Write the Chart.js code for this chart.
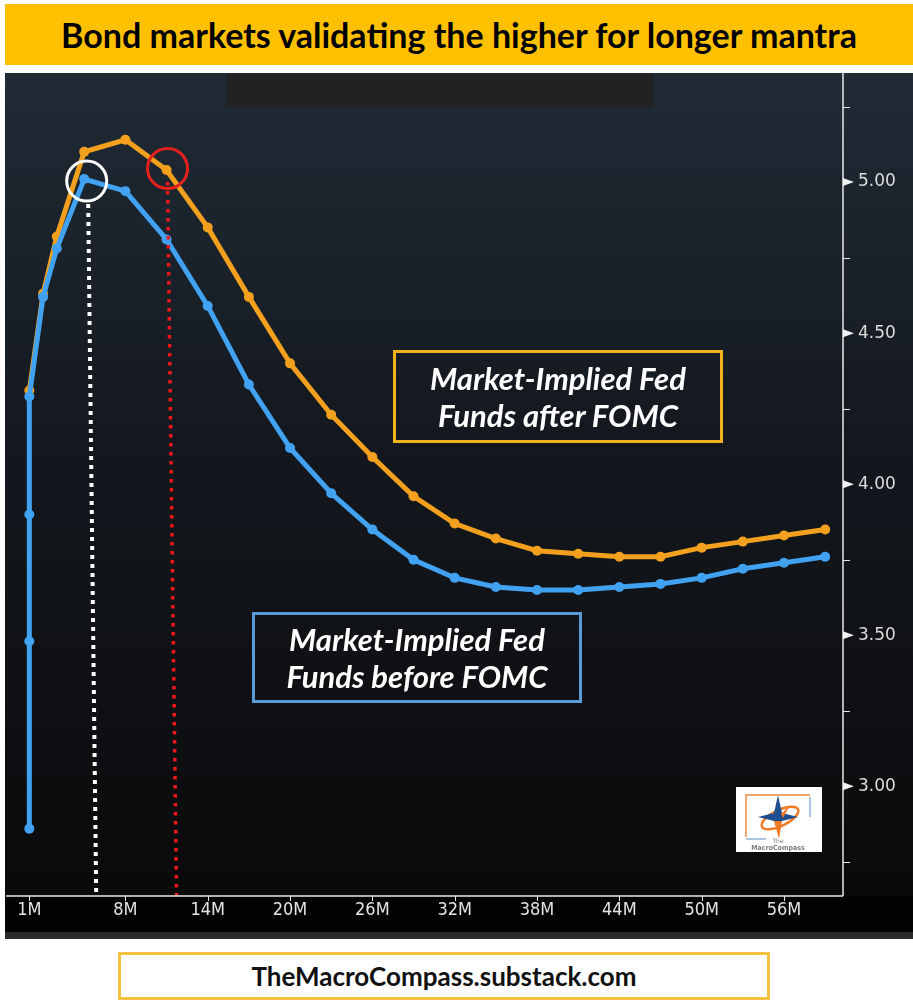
<!DOCTYPE html>
<html>
<head>
<meta charset="utf-8">
<script src="https://cdn.jsdelivr.net/npm/chart.js@4.4.0/dist/chart.umd.min.js"></script>
<style>
  html, body { margin: 0; padding: 0; background: #ffffff; width: 913px; height: 1005px; overflow: hidden; }
  #title {
    position: absolute; left: 5px; top: 4px; width: 908px; height: 61px;
    background: #ffc000; display: flex; align-items: center; justify-content: center;
    font-family: Lato, sans-serif; font-weight: 700; font-size: 34px; color: #000;
  }
  #wrap { position: absolute; left: 5px; top: 73px; width: 908px; height: 866px; }
  .note {
    position: absolute; box-sizing: border-box; border: 3px solid;
    display: flex; align-items: center; justify-content: center; text-align: center;
    font-family: Lato, sans-serif; font-weight: 700; font-style: italic;
    font-size: 31px; line-height: 37px; color: #ffffff;
  }
  #noteAfter { left: 393px; top: 350px; width: 330px; height: 93px; border-color: #f2b21c; }
  #noteBefore { left: 252px; top: 612px; width: 330px; height: 91px; border-color: #5b9bd5; }
  #footer {
    position: absolute; left: 118px; top: 952px; width: 652px; height: 48px;
    box-sizing: border-box; border: 3px solid #f5c242; background: #ffffff;
    display: flex; align-items: center; justify-content: center;
    font-family: Lato, sans-serif; font-weight: 700; font-size: 26px; color: #111;
  }
</style>
</head>
<body>
<div id="title">Bond markets validating the higher for longer mantra</div>
<div id="wrap"><canvas id="chart"></canvas></div>
<div class="note" id="noteAfter">Market-Implied Fed<br>Funds after FOMC</div>
<div class="note" id="noteBefore">Market-Implied Fed<br>Funds before FOMC</div>
<div id="footer">TheMacroCompass.substack.com</div>

<script>
// Horizon (months ahead) of each priced meeting, and the implied policy rate (%)
const beforeMonths = [1, 1, 1, 1, 2, 3, 5, 8, 11, 14, 17, 20, 23, 26, 29, 32, 35, 38, 41, 44, 47, 50, 53, 56, 59];
const beforeFomc   = [2.86, 3.48, 3.90, 4.29, 4.62, 4.78, 5.01, 4.97, 4.81, 4.59, 4.33, 4.12, 3.97, 3.85, 3.75, 3.69, 3.66, 3.65, 3.65, 3.66, 3.67, 3.69, 3.72, 3.74, 3.76];

const afterMonths  = [1, 2, 3, 5, 8, 11, 14, 17, 20, 23, 26, 29, 32, 35, 38, 41, 44, 47, 50, 53, 56, 59];
const afterFomc    = [4.31, 4.63, 4.82, 5.10, 5.14, 5.04, 4.85, 4.62, 4.40, 4.23, 4.09, 3.96, 3.87, 3.82, 3.78, 3.77, 3.76, 3.76, 3.79, 3.81, 3.83, 3.85];

// Axis ticks
const xTickMonths   = [1, 8, 14, 20, 26, 32, 38, 44, 50, 56];
const yMajorTicks   = [3.00, 3.50, 4.00, 4.50, 5.00];
const yMinorTicks   = [2.75, 3.25, 3.75, 4.25, 4.75, 5.25];

// Meeting on the post-FOMC curve that is circled in red
const afterHighlightMonth = 11;

const BLUE = '#42a2f2';
const ORANGE = '#f2a01e';

const toPoints = (xs, ys) => xs.map((x, i) => ({ x: x, y: ys[i] }));

// No automatic label padding around the plot area
const noScalePadding = axis => {
  axis.paddingTop = 0; axis.paddingBottom = 0;
  axis.paddingLeft = 0; axis.paddingRight = 0;
};

// Dark terminal-style background, bottom band and logo
const backdrop = {
  id: 'backdrop',
  beforeDraw(chart) {
    const { ctx, width, height, chartArea } = chart;
    ctx.save();
    const g = ctx.createLinearGradient(0, 0, 0, chartArea.bottom);
    g.addColorStop(0, '#202b36');
    g.addColorStop(0.45, '#14181e');
    g.addColorStop(1, '#0a0a0b');
    ctx.fillStyle = g;
    ctx.fillRect(0, 0, width, chartArea.bottom);
    ctx.fillStyle = '#030303';
    ctx.fillRect(0, chartArea.bottom, width, height - chartArea.bottom - 7);
    ctx.fillStyle = '#2a2a2a';
    ctx.fillRect(0, height - 7, width, 7);
    // masked header strip
    ctx.fillStyle = '#222222';
    ctx.fillRect(221, 1, 427, 33);
    ctx.restore();
  },
  afterDraw(chart) {
    const { ctx, chartArea } = chart;
    // logo tile
    const lx = chartArea.right - 107, ly = chartArea.bottom - 109, lw = 86, lh = 65;
    ctx.save();
    ctx.fillStyle = '#ffffff';
    ctx.fillRect(lx, ly, lw, lh);
    ctx.strokeStyle = '#f08a3c';
    ctx.lineWidth = 1.5;
    ctx.beginPath();
    ctx.moveTo(lx + 10, ly + 50); ctx.lineTo(lx + 10, ly + 8); ctx.lineTo(lx + 74, ly + 8);
    ctx.stroke();
    ctx.strokeStyle = '#8fb3d9';
    ctx.beginPath();
    ctx.moveTo(lx + 74, ly + 10); ctx.lineTo(lx + 74, ly + 30);
    ctx.moveTo(lx + 10, ly + 52); ctx.lineTo(lx + 30, ly + 52);
    ctx.stroke();
    const cx = lx + 42, cy = ly + 30;
    // orange ring
    ctx.strokeStyle = '#f07a28';
    ctx.lineWidth = 2.5;
    ctx.beginPath();
    ctx.ellipse(cx + 2, cy + 1, 20, 8, -0.45, 0, Math.PI * 2);
    ctx.stroke();
    // compass star
    const star = (pts, color) => {
      ctx.fillStyle = color;
      ctx.beginPath();
      ctx.moveTo(pts[0][0], pts[0][1]);
      for (let i = 1; i < pts.length; i++) ctx.lineTo(pts[i][0], pts[i][1]);
      ctx.closePath();
      ctx.fill();
    };
    star([[cx, cy - 22], [cx + 4, cy - 4], [cx + 20, cy], [cx + 4, cy + 4], [cx, cy + 10], [cx - 4, cy + 4], [cx - 20, cy], [cx - 4, cy - 4]], '#1f4f8f');
    star([[cx, cy + 4], [cx + 4, cy + 4], [cx + 1, cy + 22], [cx - 4, cy + 4]], '#f07a28');
    star([[cx + 3, cy - 3], [cx + 12, cy - 12], [cx + 5, cy + 1]], '#f07a28');
    ctx.fillStyle = '#7a7a7a';
    ctx.font = '6px "DejaVu Sans"';
    ctx.textAlign = 'center';
    ctx.fillText('The', cx, ly + 56);
    ctx.font = 'bold 7px "DejaVu Sans Condensed"';
    ctx.fillText('MacroCompass', cx, ly + 63);
    ctx.restore();
  }
};

// Axis lines, tick marks, and the highlighted peak markers
const overlay = {
  id: 'overlay',
  afterDatasetsDraw(chart) {
    const { ctx, chartArea, scales } = chart;
    const xs = scales.x, ys = scales.y;
    ctx.save();

    // white marker: peak of the pre-FOMC curve
    let peak = 0;
    beforeFomc.forEach((v, i) => { if (v > beforeFomc[peak]) peak = i; });
    const wx = xs.getPixelForValue(beforeMonths[peak]);
    const wy = ys.getPixelForValue(beforeFomc[peak]);
    ctx.strokeStyle = '#ffffff';
    ctx.lineWidth = 4;
    ctx.setLineDash([4, 5]);
    ctx.beginPath();
    ctx.moveTo(wx + 4, wy + 25);
    ctx.lineTo(wx + 12, chartArea.bottom);
    ctx.stroke();
    ctx.setLineDash([]);
    ctx.lineWidth = 3;
    ctx.beginPath();
    ctx.arc(wx + 2.5, wy + 2, 20, 0, Math.PI * 2);
    ctx.stroke();

    // red marker: post-FOMC meeting still above the old peak
    const hi = afterMonths.indexOf(afterHighlightMonth);
    const rx = xs.getPixelForValue(afterMonths[hi]);
    const ry = ys.getPixelForValue(afterFomc[hi]);
    ctx.strokeStyle = '#f01818';
    ctx.lineWidth = 3.5;
    ctx.setLineDash([3.5, 5.5]);
    ctx.beginPath();
    ctx.moveTo(rx + 1, ry + 12);
    ctx.lineTo(rx + 10, chartArea.bottom);
    ctx.stroke();
    ctx.setLineDash([]);
    ctx.lineWidth = 3;
    ctx.strokeStyle = '#e3201c';
    ctx.beginPath();
    ctx.arc(rx + 1, ry - 1.5, 20, 0, Math.PI * 2);
    ctx.stroke();

    // axis lines
    ctx.strokeStyle = '#e8e8e8';
    ctx.lineWidth = 1.5;
    ctx.beginPath();
    ctx.moveTo(chartArea.left, chartArea.bottom);
    ctx.lineTo(chartArea.right, chartArea.bottom);
    ctx.moveTo(chartArea.right, chartArea.top);
    ctx.lineTo(chartArea.right, chartArea.bottom);
    ctx.stroke();

    // x tick marks
    ctx.lineWidth = 1;
    ctx.beginPath();
    xTickMonths.forEach(m => {
      const px = Math.round(xs.getPixelForValue(m)) + 0.5;
      ctx.moveTo(px, chartArea.bottom);
      ctx.lineTo(px, chartArea.bottom + 5);
    });
    ctx.stroke();

    // y minor ticks
    ctx.beginPath();
    yMinorTicks.forEach(v => {
      const py = Math.round(ys.getPixelForValue(v)) + 0.5;
      ctx.moveTo(chartArea.right, py);
      ctx.lineTo(chartArea.right + 7, py);
    });
    ctx.stroke();

    // y major ticks as small pointers
    ctx.fillStyle = '#f2f2f2';
    yMajorTicks.forEach(v => {
      const py = ys.getPixelForValue(v);
      ctx.beginPath();
      ctx.moveTo(chartArea.right, py - 4);
      ctx.lineTo(chartArea.right + 11, py);
      ctx.lineTo(chartArea.right, py + 4);
      ctx.closePath();
      ctx.fill();
    });
    ctx.restore();
  }
};

new Chart(document.getElementById('chart'), {
  type: 'line',
  data: {
    datasets: [
      {
        label: 'Market-Implied Fed Funds before FOMC',
        data: toPoints(beforeMonths, beforeFomc),
        borderColor: BLUE, backgroundColor: BLUE,
        borderWidth: 5, pointRadius: 5, pointBorderWidth: 0,
        pointBackgroundColor: BLUE, tension: 0
      },
      {
        label: 'Market-Implied Fed Funds after FOMC',
        data: toPoints(afterMonths, afterFomc),
        borderColor: ORANGE, backgroundColor: ORANGE,
        borderWidth: 5, pointRadius: 5, pointBorderWidth: 0,
        pointBackgroundColor: ORANGE, tension: 0
      }
    ]
  },
  options: {
    responsive: true,
    maintainAspectRatio: false,
    devicePixelRatio: 1,
    animation: false,
    layout: { autoPadding: false, padding: { left: 1, right: 0, top: 0, bottom: 0 } },
    plugins: { legend: { display: false }, tooltip: { enabled: false } },
    scales: {
      x: {
        type: 'linear',
        min: -0.7, max: 60.3,
        grid: { display: false },
        border: { display: false },
        afterBuildTicks: axis => { axis.ticks = xTickMonths.map(v => ({ value: v })); },
        afterFit: axis => { axis.height = 43; noScalePadding(axis); },
        ticks: {
          autoSkip: false, maxRotation: 0, padding: -4,
          color: '#e4e4e4',
          font: { family: '"DejaVu Sans Condensed"', size: 18 },
          callback: v => v + 'M'
        }
      },
      y: {
        type: 'linear',
        position: 'right',
        min: 2.637, max: 5.361,
        grid: { display: false },
        border: { display: false },
        afterBuildTicks: axis => {
          axis.ticks = yMajorTicks.concat(yMinorTicks).sort((a, b) => a - b).map(v => ({ value: v }));
        },
        afterFit: axis => { axis.width = 70; noScalePadding(axis); },
        ticks: {
          padding: 7,
          color: '#dcdcdc',
          font: { family: '"DejaVu Sans"', size: 17 },
          callback: v => yMajorTicks.includes(v) ? v.toFixed(2) : ''
        }
      }
    }
  },
  plugins: [backdrop, overlay]
});
</script>
</body>
</html>
